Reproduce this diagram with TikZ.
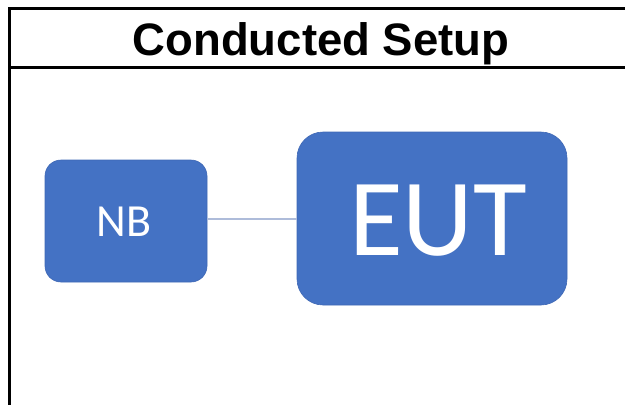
\documentclass[tikz,border=0pt]{standalone}
\usepackage{fontspec}
\setmainfont{Liberation Sans}
\newfontfamily\boxfont{Carlito}
\definecolor{boxblue}{HTML}{4472C4}
\definecolor{boxedge}{HTML}{3F68B5}
\definecolor{wire}{HTML}{AEBCDA}
\begin{document}
\begin{tikzpicture}[x=1pt,y=-1pt,
  frame/.style={line width=3pt,black},
  unit/.style={draw=boxedge,line width=0.6pt,fill=boxblue,rounded corners=#1,inner sep=0pt},
  unit/.default=16pt,
  boxlabel/.style={text=white,inner sep=0pt,font=\boxfont}]
  \useasboundingbox (0,0) rectangle (625,405);
  % table frame
  \draw[frame] (9,405) -- (9,8) -- (625,8);
  \draw[frame] (9,67) -- (625,67);
  \node[anchor=base,font=\fontsize{45.5}{50}\selectfont\bfseries] (title) at (321,55) {Conducted Setup};
  % equipment boxes
  \node[unit=16pt,minimum width=162pt,minimum height=122pt] (nb) at (126,221) {};
  \node[unit=26pt,minimum width=270pt,minimum height=173pt] (eut) at (432,218.5) {};
  \node[boxlabel,font=\fontsize{46}{50}\boxfont] (nbtext) at (124,222) {NB};
  \node[boxlabel,font=\fontsize{110}{120}\boxfont] (euttext) at (438,221) {EUT};
  % cable
  \draw[wire,line width=1.3pt] (nb.east |- 0,219) -- (eut.west |- 0,219);
\end{tikzpicture}
\end{document}
